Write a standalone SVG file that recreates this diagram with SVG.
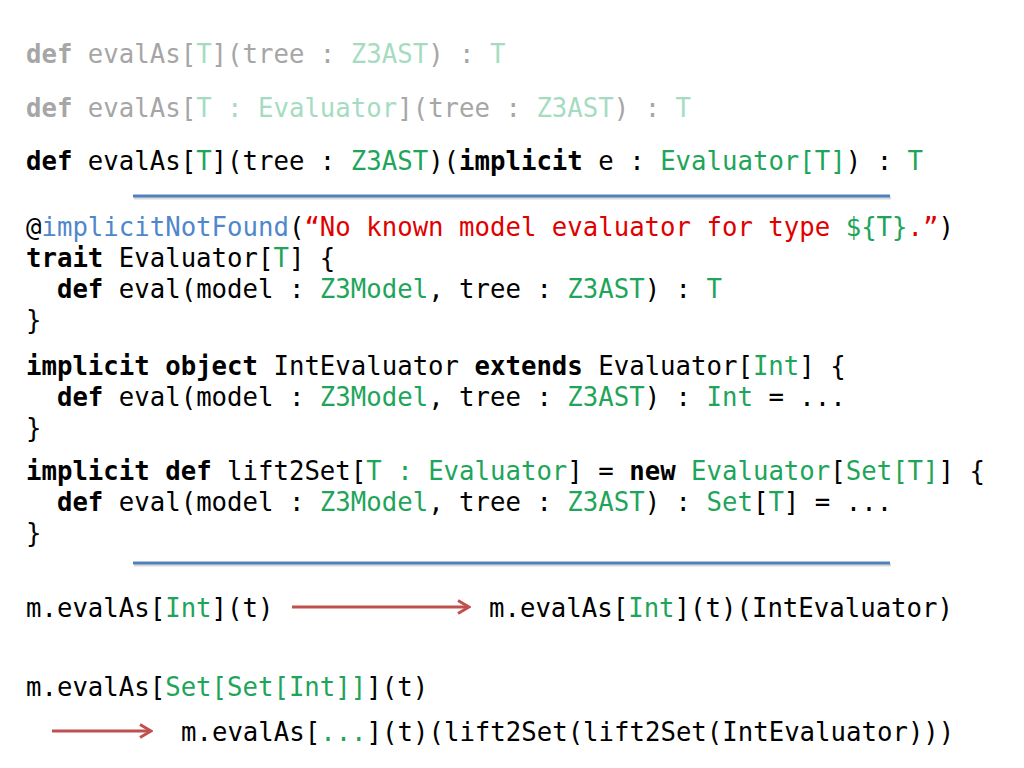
<svg xmlns="http://www.w3.org/2000/svg" width="1024" height="768" viewBox="0 0 1024 768" xml:space="preserve">
<defs>
<style>
text { font-family: "DejaVu Sans Mono", "Liberation Mono", monospace; font-size: 25.7px; fill: #000; white-space: pre; }
.b { font-weight: bold; }
.g { fill: #1ea55a; }
.bl { fill: #4f87cc; }
.r { fill: #e00000; }
.fade { fill: #a6a6a6; }
.fg { fill: #a5dcc1; }
.sep { stroke: #4f81bd; stroke-width: 3; }
.sepsh { stroke: #d9d9d9; stroke-width: 3; }
.arrow { stroke: #c0504d; stroke-width: 3; fill: none; }
</style>
<marker id="ah" viewBox="0 0 16 16" refX="14" refY="8" markerWidth="16" markerHeight="16" markerUnits="userSpaceOnUse" orient="auto">
<path d="M3,1.5 L14,8 L3,14.5" fill="none" stroke="#c0504d" stroke-width="3" stroke-linejoin="miter"/>
</marker>
</defs>
<rect width="1024" height="768" fill="#fff"/>

<g id="sig1"><text x="26" y="63" class="fade"><tspan class="b">def</tspan> evalAs[<tspan class="fg">T</tspan>](tree : <tspan class="fg">Z3AST</tspan>) : <tspan class="fg">T</tspan></text></g>
<g id="sig2"><text x="26" y="117" class="fade"><tspan class="b">def</tspan> evalAs[<tspan class="fg">T : Evaluator</tspan>](tree : <tspan class="fg">Z3AST</tspan>) : <tspan class="fg">T</tspan></text></g>
<g id="sig3"><text x="26" y="170"><tspan class="b">def</tspan> evalAs[<tspan class="g">T</tspan>](tree : <tspan class="g">Z3AST</tspan>)(<tspan class="b">implicit</tspan> e : <tspan class="g">Evaluator[T]</tspan>) : <tspan class="g">T</tspan></text></g>

<g id="separator1">
<line x1="134" y1="198" x2="891" y2="198" class="sepsh"/>
<line x1="133" y1="196" x2="890" y2="196" class="sep"/>
</g>

<g id="trait">
<text x="26" y="236">@<tspan class="bl">implicitNotFound</tspan>(<tspan class="r">“No known model evaluator for type </tspan><tspan class="g">${T}</tspan><tspan class="r">.”</tspan>)</text>
<text x="26" y="267"><tspan class="b">trait</tspan> Evaluator[<tspan class="g">T</tspan>] {</text>
<text x="26" y="298">  <tspan class="b">def</tspan> eval(model : <tspan class="g">Z3Model</tspan>, tree : <tspan class="g">Z3AST</tspan>) : <tspan class="g">T</tspan></text>
<text x="26" y="329">}</text>
</g>

<g id="intEvaluator">
<text x="26" y="375"><tspan class="b">implicit</tspan> <tspan class="b">object</tspan> IntEvaluator <tspan class="b">extends</tspan> Evaluator[<tspan class="g">Int</tspan>] {</text>
<text x="26" y="406">  <tspan class="b">def</tspan> eval(model : <tspan class="g">Z3Model</tspan>, tree : <tspan class="g">Z3AST</tspan>) : <tspan class="g">Int</tspan> = ...</text>
<text x="26" y="437">}</text>
</g>

<g id="lift2Set">
<text x="26" y="480"><tspan class="b">implicit</tspan> <tspan class="b">def</tspan> lift2Set[<tspan class="g">T : Evaluator</tspan>] = <tspan class="b">new</tspan> <tspan class="g">Evaluator</tspan>[<tspan class="g">Set[T]</tspan>] {</text>
<text x="26" y="511">  <tspan class="b">def</tspan> eval(model : <tspan class="g">Z3Model</tspan>, tree : <tspan class="g">Z3AST</tspan>) : <tspan class="g">Set</tspan>[<tspan class="g">T</tspan>] = ...</text>
<text x="26" y="542">}</text>
</g>

<g id="separator2">
<line x1="134" y1="565" x2="891" y2="565" class="sepsh"/>
<line x1="133" y1="563" x2="890" y2="563" class="sep"/>
</g>

<g id="call1"><text x="26" y="617">m.evalAs[<tspan class="g">Int</tspan>](t)</text></g>
<g id="result1"><text x="489" y="617">m.evalAs[<tspan class="g">Int</tspan>](t)(IntEvaluator)</text></g>
<g id="call2"><text x="26" y="696">m.evalAs[<tspan class="g">Set[Set[Int]]</tspan>](t)</text></g>
<g id="result2"><text x="181" y="741">m.evalAs[<tspan class="g">...</tspan>](t)(lift2Set(lift2Set(IntEvaluator)))</text></g>

<g id="connectors">
<line x1="292" y1="607" x2="469" y2="607" class="arrow" marker-end="url(#ah)"/>
<line x1="52" y1="731" x2="151" y2="731" class="arrow" marker-end="url(#ah)"/>
</g>
</svg>
